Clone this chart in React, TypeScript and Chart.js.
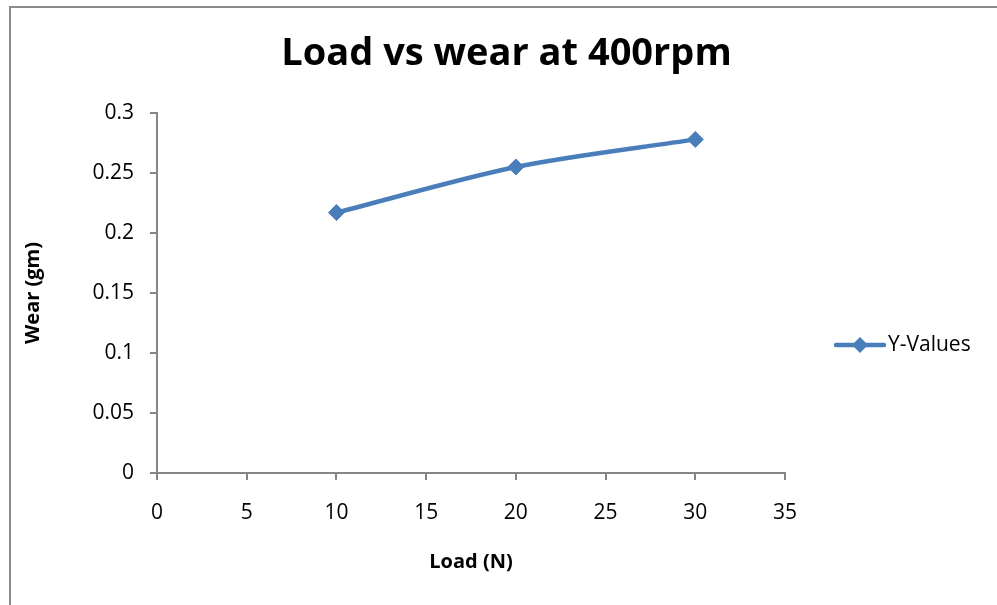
import React, { useEffect, useRef } from "react";
import { Chart, registerables } from "chart.js";

Chart.register(...registerables);

const TITLE = "Load vs wear at 400rpm";
const X_TITLE = "Load (N)";
const Y_TITLE = "Wear (gm)";
const SERIES_LABEL = "Y-Values";
const loadN = [10, 20, 30];
const wearGm = [0.217, 0.255, 0.278];
const xTicks = [0, 5, 10, 15, 20, 25, 30, 35];
const yTicks = [0, 0.05, 0.1, 0.15, 0.2, 0.25, 0.3];

const LINE_COLOR = "#4A7EBB";
const AXIS_COLOR = "#868686";
const FONT = "'Open Sans', 'DejaVu Sans', sans-serif";

const legendPlugin = {
  id: "excelLegend",
  afterDraw(chart: any) {
    const { ctx, chartArea } = chart;
    const ds = chart.data.datasets[0];
    const y = 345;
    const x0 = chartArea.right + 51;
    ctx.save();
    ctx.strokeStyle = ds.borderColor;
    ctx.lineWidth = 4.5;
    ctx.lineCap = "round";
    ctx.beginPath();
    ctx.moveTo(x0, y);
    ctx.lineTo(x0 + 48, y);
    ctx.stroke();
    const cx = x0 + 24;
    const r = 8;
    ctx.fillStyle = ds.borderColor;
    ctx.beginPath();
    ctx.moveTo(cx - r, y);
    ctx.lineTo(cx, y - r);
    ctx.lineTo(cx + r, y);
    ctx.lineTo(cx, y + r);
    ctx.closePath();
    ctx.fill();
    ctx.fillStyle = "#000";
    ctx.font = `21px ${FONT}`;
    ctx.textAlign = "left";
    ctx.textBaseline = "middle";
    ctx.fillText(ds.label, x0 + 52, y);
    ctx.restore();
  },
};

export default function App() {
  const ref = useRef<HTMLCanvasElement | null>(null);
  useEffect(() => {
    if (!ref.current) return;
    const chart = new Chart(ref.current, {
      type: "line",
      data: {
        datasets: [
          {
            label: SERIES_LABEL,
            data: loadN.map((x, i) => ({ x, y: wearGm[i] })),
            borderColor: LINE_COLOR,
            backgroundColor: LINE_COLOR,
            borderWidth: 4.5,
            tension: 0.3,
            pointStyle: "rectRot",
            pointRadius: 8,
            pointBorderWidth: 1,
            pointBackgroundColor: LINE_COLOR,
            pointBorderColor: LINE_COLOR,
          },
        ],
      },
      plugins: [legendPlugin],
      options: {
        animation: false,
        responsive: false,
        devicePixelRatio: 1,
        layout: { padding: { left: 16, top: 0, right: 0, bottom: 0 } },
        plugins: {
          legend: { display: false },
          tooltip: { enabled: false },
          title: {
            display: true,
            text: TITLE,
            color: "#000",
            font: { family: FONT, size: 38, weight: "bold" },
            padding: { top: 31, bottom: 36.4 },
          },
        },
        scales: {
          x: {
            type: "linear",
            min: 0,
            max: 35,
            afterFit: (s: any) => {
              s.height = 132;
            },
            afterBuildTicks: (s: any) => {
              s.ticks = xTicks.map((v) => ({ value: v }));
            },
            ticks: {
              color: "#000",
              font: { family: FONT, size: 21 },
              padding: 20,
              maxRotation: 0,
            },
            grid: {
              display: true,
              drawOnChartArea: false,
              drawTicks: true,
              tickLength: 7,
              color: AXIS_COLOR,
              lineWidth: 2,
            },
            border: { display: true, color: AXIS_COLOR, width: 2 },
            title: {
              display: true,
              text: X_TITLE,
              color: "#000",
              font: { family: FONT, size: 20, weight: "bold" },
              padding: { top: 0, bottom: 31 },
            },
          },
          y: {
            type: "linear",
            min: 0,
            max: 0.3,
            afterFit: (s: any) => {
              s.width = 141;
            },
            afterBuildTicks: (s: any) => {
              s.ticks = yTicks.map((v) => ({ value: v }));
            },
            ticks: {
              color: "#000",
              font: { family: FONT, size: 21 },
              padding: 16,
              callback: (v: any) => String(+Number(v).toFixed(2)),
            },
            grid: {
              display: true,
              drawOnChartArea: false,
              drawTicks: true,
              tickLength: 7,
              color: AXIS_COLOR,
              lineWidth: 2,
            },
            border: { display: true, color: AXIS_COLOR, width: 2 },
            title: {
              display: true,
              text: Y_TITLE,
              color: "#000",
              font: { family: FONT, size: 20, weight: "bold" },
              padding: { top: 5, bottom: 0 },
            },
          },
          yR: {
            type: "linear",
            position: "right",
            display: true,
            afterFit: (s: any) => {
              s.width = 212;
            },
            ticks: { display: false },
            grid: { display: false },
            border: { display: false },
          },
        },
      },
    } as any);
    return () => chart.destroy();
  }, []);

  return (
    <div
      style={{
        position: "absolute",
        left: 0,
        top: 0,
        width: 997,
        height: 605,
        overflow: "hidden",
        background: "#fff",
      }}
    >
      <div
        style={{
          position: "absolute",
          left: 9,
          top: 6,
          width: 1100,
          height: 700,
          border: "2px solid #8c8c8c",
        }}
      />
      <canvas
        ref={ref}
        width={997}
        height={605}
        style={{ position: "absolute", left: 0, top: 0, width: 997, height: 605 }}
      />
    </div>
  );
}
